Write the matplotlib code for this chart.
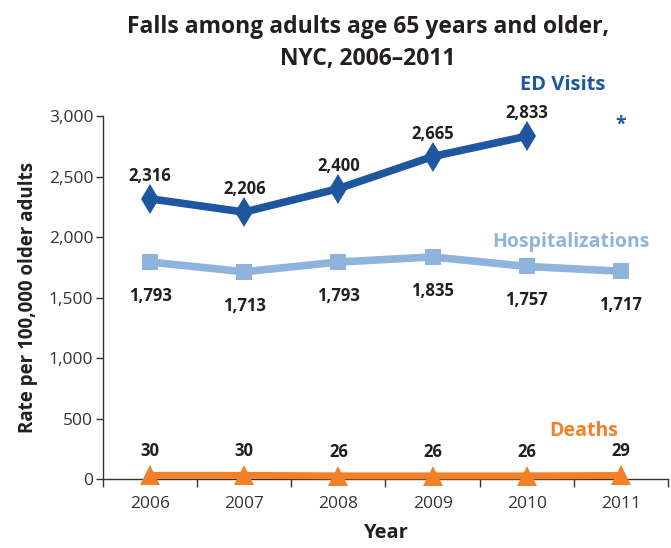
import matplotlib
matplotlib.use("Agg")
import matplotlib.pyplot as plt
from matplotlib.ticker import FuncFormatter

years = [2006, 2007, 2008, 2009, 2010, 2011]
ed_years = [2006, 2007, 2008, 2009, 2010]
ed_visits = [2316, 2206, 2400, 2665, 2833]
hosp = [1793, 1713, 1793, 1835, 1757, 1717]
deaths = [30, 30, 26, 26, 26, 29]

c_ed = "#1F56A0"
c_hosp = "#8FB4DC"
c_death = "#F28026"
c_text = "#231F20"

plt.rcParams['font.family'] = ['Open Sans', 'DejaVu Sans']

fig = plt.figure(figsize=(6.71, 5.48), dpi=100)
ax = fig.add_axes([0.1535, 0.1259, 0.842, 0.6624])

ax.plot(ed_years, ed_visits, color=c_ed, lw=5.5, marker='d', ms=15, mew=0,
        clip_on=False, zorder=3)
ax.plot(years, hosp, color=c_hosp, lw=5.5, marker='s', ms=12, mew=0,
        clip_on=False, zorder=3)
ax.plot(years, deaths, color=c_death, lw=5, marker='^', ms=14, mew=0,
        clip_on=False, zorder=4)

lab_fs = 12
for x, v in zip(ed_years, ed_visits):
    ax.annotate(f"{v:,}", (x, v), xytext=(0, 10), textcoords='offset points',
                ha='center', va='bottom', fontsize=lab_fs, fontweight='bold', color=c_text)
for x, v in zip(years, hosp):
    ax.annotate(f"{v:,}", (x, v), xytext=(0, -18), textcoords='offset points',
                ha='center', va='top', fontsize=lab_fs, fontweight='bold', color=c_text)
for x, v in zip(years, deaths):
    ax.annotate(f"{v:,}", (x, v), xytext=(0, 11), textcoords='offset points',
                ha='center', va='bottom', fontsize=lab_fs, fontweight='bold', color=c_text)

ax.text(2010.38, 3260, "ED Visits", color=c_ed, fontsize=14.5, fontweight='bold',
        ha='center', va='center')
ax.text(2011.0, 2930, "*", color=c_ed, fontsize=14, fontweight='bold',
        ha='center', va='center')
ax.text(2010.47, 1960, "Hospitalizations", color=c_hosp, fontsize=14, fontweight='bold',
        ha='center', va='center')
ax.text(2010.6, 400, "Deaths", color=c_death, fontsize=14, fontweight='bold',
        ha='center', va='center')

ax.set_xlim(2005.5, 2011.5)
ax.set_ylim(0, 3000)
ax.set_xticks(years)
ax.set_xticks([2005.5 + i for i in range(7)], minor=True)
ax.tick_params(axis='x', which='major', length=0, pad=12, labelsize=12.5, labelcolor='#333333')
ax.tick_params(axis='x', which='minor', length=6, width=1, direction='out', color='#333333')
ax.set_yticks([0, 500, 1000, 1500, 2000, 2500, 3000])
ax.yaxis.set_major_formatter(FuncFormatter(lambda v, p: f"{int(v):,}"))
ax.tick_params(axis='y', length=5, width=1, direction='out', labelsize=12.5,
               labelcolor='#333333', color='#333333', pad=2)

for s in ['top', 'right']:
    ax.spines[s].set_visible(False)
for s in ['left', 'bottom']:
    ax.spines[s].set_color('#333333')
    ax.spines[s].set_linewidth(1)

ax.set_xlabel("Year", fontsize=14.5, fontweight='bold', color=c_text, labelpad=8)
ax.set_ylabel("Rate per 100,000 older adults", fontsize=13.5, fontweight='bold',
              color=c_text, labelpad=8)

fig.text(0.548, 0.972, "Falls among adults age 65 years and older,\nNYC, 2006\u20132011",
         ha='center', va='top', fontsize=16.5, fontweight='bold', color=c_text,
         linespacing=1.45)

fig.savefig("out.png", dpi=100)
